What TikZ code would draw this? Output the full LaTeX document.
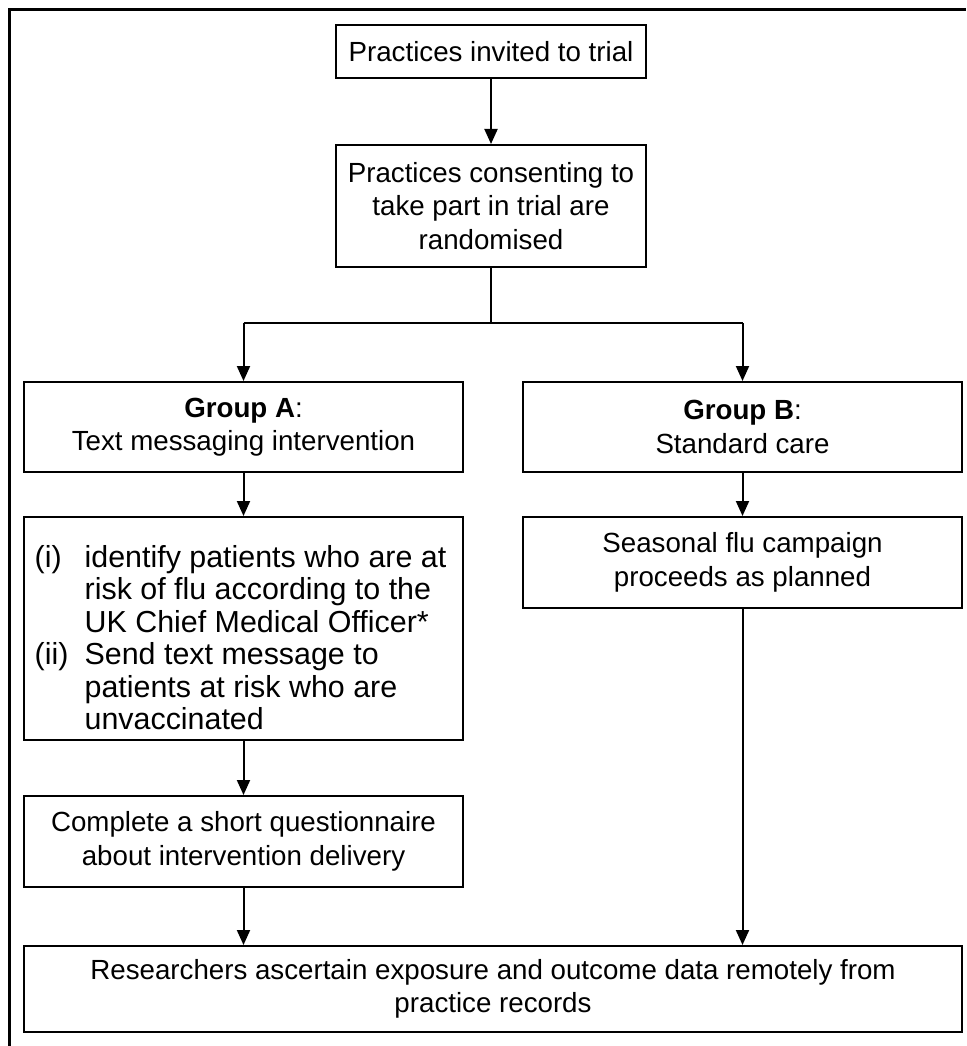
\documentclass[tikz,border=0pt]{standalone}
\usepackage{fontspec}
\setmainfont{Liberation Sans}
\usetikzlibrary{arrows.meta}
\begin{document}
\begin{tikzpicture}[x=1pt,y=-1pt,
  box/.style={draw, line width=2pt, rectangle, inner sep=0pt, align=center,
    font=\fontsize{27.7}{33.5}\selectfont},
  listbox/.style={box, align=left, font=\fontsize{30.4}{32.5}\selectfont},
  arr/.style={line width=2pt, -{Triangle[width=13pt,length=15pt]}},
  ln/.style={line width=2pt},
  frame/.style={line width=3pt}]
\useasboundingbox (0,0) rectangle (966,1046);
\draw[frame] (9,1046) -- (9,10) -- (966,10);

\node[box, minimum width=310pt, minimum height=53pt] (invite) at (491,51.5) {Practices invited to trial};
\node[box, minimum width=310pt, minimum height=122pt] (consent) at (491,206) {Practices consenting to\\take part in trial are\\randomised};
\node[box, minimum width=439pt, minimum height=90pt] (groupA) at (243.5,427) {\textbf{Group A}:\\Text messaging intervention};
\node[box, minimum width=439pt, minimum height=90pt] (groupB) at (742.5,427) {\textbf{Group B}:\\Standard care};
\node[listbox, minimum width=439pt, minimum height=223pt] (list) at (243.5,628.5)
  {\rule{0pt}{40pt}\makebox[50pt][l]{(i)}identify patients who are at\hspace*{6pt}\\
   \hspace*{50pt}risk of flu according to the\\
   \hspace*{50pt}UK Chief Medical Officer*\\
   \makebox[50pt][l]{(ii)}Send text message to\\
   \hspace*{50pt}patients at risk who are\\
   \hspace*{50pt}unvaccinated};
\node[box, minimum width=439pt, minimum height=91pt] (season) at (742.5,562.5) {Seasonal flu campaign\\proceeds as planned};
\node[box, minimum width=439pt, minimum height=91pt] (quest) at (243.5,841.5) {Complete a short questionnaire\\about intervention delivery};
\node[box, minimum width=938pt, minimum height=86pt] (records) at (493,989) {Researchers ascertain exposure and outcome data remotely from\\practice records};

\coordinate (split) at (491,323);
\coordinate (splitA) at (243.5,323);
\coordinate (splitB) at (742.5,323);

\draw[arr] (invite) -- (consent);
\draw[ln] (consent.south) -- (split);
\draw[ln] (splitA) -- (splitB);
\draw[arr] (splitA) -- (groupA.north);
\draw[arr] (splitB) -- (groupB.north);
\draw[arr] (groupA) -- (list);
\draw[arr] (groupB) -- (season);
\draw[arr] (list) -- (quest);
\draw[arr] (quest.south) -- (quest.south |- records.north);
\draw[arr] (season.south) -- (season.south |- records.north);
\end{tikzpicture}
\end{document}
